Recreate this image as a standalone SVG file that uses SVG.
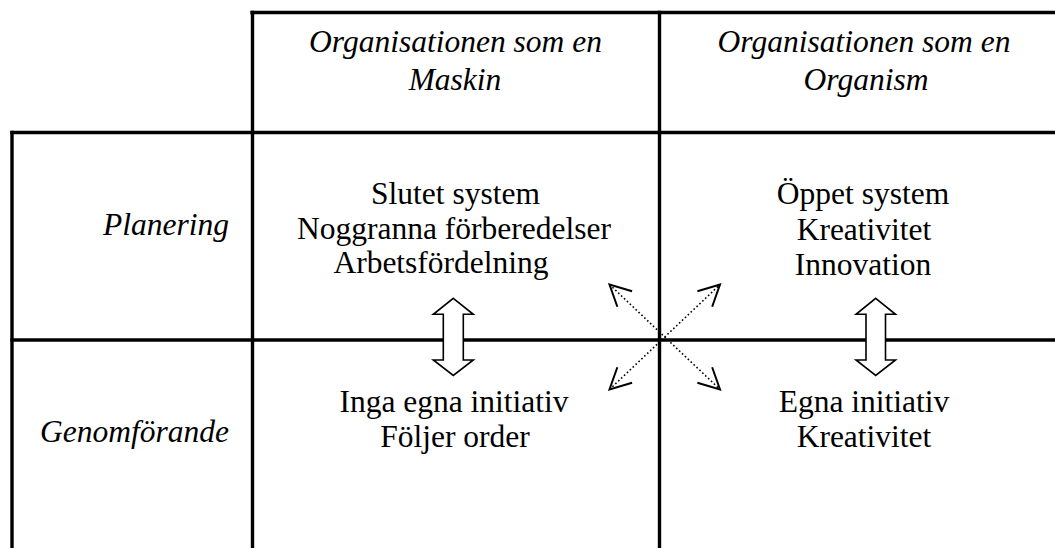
<svg xmlns="http://www.w3.org/2000/svg" width="1055" height="548" viewBox="0 0 1055 548">
<style>
.grid line{stroke:#000;stroke-width:3.4;stroke-linecap:square}
text{font-family:"Liberation Serif","Times New Roman",serif;font-size:31.5px;fill:#000;text-anchor:middle}
.it{font-style:italic}
.blk{fill:#fff;stroke:#000;stroke-width:1.6;stroke-linejoin:miter}
.dot{stroke:#000;stroke-width:1.6;stroke-dasharray:1.6 2.4;fill:none}
</style>
<defs>
<marker id="vhead" markerUnits="userSpaceOnUse" markerWidth="40" markerHeight="40" viewBox="-30 -20 40 40" refX="0" refY="0" orient="auto-start-reverse" overflow="visible">
<path d="M-21,-10.7 L0,0 L-21,10.7" fill="none" stroke="#000" stroke-width="2"/>
</marker>
</defs>
<g id="grid" class="grid">
<line x1="252" y1="12.5" x2="1055" y2="12.5"/>
<line x1="12" y1="132.5" x2="1055" y2="132.5"/>
<line x1="12" y1="340" x2="1055" y2="340"/>
<line x1="12" y1="132.5" x2="12" y2="548"/>
<line x1="252.5" y1="12.5" x2="252.5" y2="548"/>
<line x1="659.5" y1="12.5" x2="659.5" y2="548"/>
</g>
<g id="header-maskin">
<text class="it" x="455.5" y="52">Organisationen som en</text>
<text class="it" x="455" y="90">Maskin</text>
</g>
<g id="header-organism">
<text class="it" x="864" y="52">Organisationen som en</text>
<text class="it" x="866" y="90">Organism</text>
</g>
<g id="row-planering">
<text class="it" x="229" y="235" style="text-anchor:end">Planering</text>
</g>
<g id="row-genomforande">
<text class="it" x="229" y="442" style="text-anchor:end">Genomförande</text>
</g>
<g id="cell-maskin-planering">
<text x="455.5" y="204">Slutet system</text>
<text x="454" y="239">Noggranna förberedelser</text>
<text x="441" y="273">Arbetsfördelning</text>
</g>
<g id="cell-organism-planering">
<text x="863" y="204">Öppet system</text>
<text x="864" y="239.5">Kreativitet</text>
<text x="863" y="275">Innovation</text>
</g>
<g id="cell-maskin-genomforande">
<text x="454" y="412">Inga egna initiativ</text>
<text x="455" y="447">Följer order</text>
</g>
<g id="cell-organism-genomforande">
<text x="864" y="412">Egna initiativ</text>
<text x="864" y="447">Kreativitet</text>
</g>
<g id="connectors">
<path class="blk" d="M453.3,298.3 L473.3,314.3 L463.3,314.3 L463.3,360 L473.3,360 L453.3,375.5 L433.3,360 L443.3,360 L443.3,314.3 L433.3,314.3 Z"/>
<path class="blk" d="M875.7,298.3 L895.5,314.3 L885.5,314.3 L885.5,360 L895.5,360 L875.7,375.5 L856,360 L866,360 L866,314.3 L856,314.3 Z"/>
<line class="dot" x1="609.5" y1="284.5" x2="720" y2="389.5" marker-start="url(#vhead)" marker-end="url(#vhead)"/>
<line class="dot" x1="609.5" y1="389.5" x2="720" y2="284.5" marker-start="url(#vhead)" marker-end="url(#vhead)"/>
</g>
</svg>
